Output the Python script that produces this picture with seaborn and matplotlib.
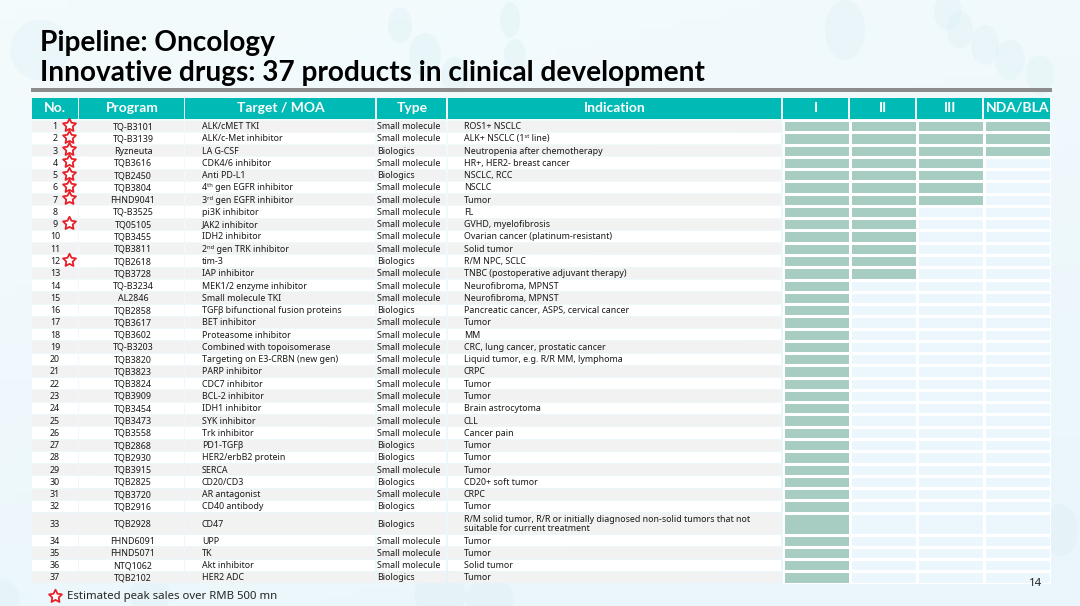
#!/usr/bin/env python3
"""
Pipeline table: oncology programs in clinical development.
"""
import numpy as np
import seaborn as sns
import matplotlib
matplotlib.use("Agg")
import matplotlib.pyplot as plt
from matplotlib.colors import ListedColormap
from matplotlib.patches import Rectangle, Ellipse
from matplotlib.path import Path

numbers = list(range(1, 38))
programs = ["TQ-B3101", "TQ-B3139", "Ryzneuta", "TQB3616", "TQB2450", "TQB3804", "FHND9041", "TQ-B3525",
            "TQ05105", "TQB3455", "TQB3811", "TQB2618", "TQB3728", "TQ-B3234", "AL2846", "TQB2858",
            "TQB3617", "TQB3602", "TQ-B3203", "TQB3820", "TQB3823", "TQB3824", "TQB3909", "TQB3454",
            "TQB3473", "TQB3558", "TQB2868", "TQB2930", "TQB3915", "TQB2825", "TQB3720", "TQB2916",
            "TQB2928", "FHND6091", "FHND5071", "NTQ1062", "TQB2102"]
targets = ["ALK/cMET TKI", "ALK/c-Met inhibitor", "LA G-CSF", "CDK4/6 inhibitor", "Anti PD-L1",
           "4ᵗʰ gen EGFR inhibitor", "3ʳᵈ gen EGFR inhibitor", "pi3K inhibitor", "JAK2 inhibitor",
           "IDH2 inhibitor", "2ⁿᵈ gen TRK inhibitor", "tim-3", "IAP inhibitor", "MEK1/2 enzyme inhibitor",
           "Small molecule TKI", "TGFβ bifunctional fusion proteins", "BET inhibitor", "Proteasome inhibitor",
           "Combined with topoisomerase", "Targeting on E3-CRBN (new gen)", "PARP inhibitor", "CDC7 inhibitor",
           "BCL-2 inhibitor", "IDH1 inhibitor", "SYK inhibitor", "Trk inhibitor", "PD1-TGFβ",
           "HER2/erbB2 protein", "SERCA", "CD20/CD3", "AR antagonist", "CD40 antibody", "CD47", "UPP", "TK",
           "Akt inhibitor", "HER2 ADC"]
SM, BIO = "Small molecule", "Biologics"
types = [SM, SM, BIO, SM, BIO, SM, SM, SM, SM, SM, SM, BIO, SM, SM, SM, BIO, SM, SM, SM, SM, SM, SM, SM, SM,
         SM, SM, BIO, BIO, SM, BIO, SM, BIO, BIO, SM, SM, SM, BIO]
indications = ["ROS1+ NSCLC", "ALK+ NSCLC (1ˢᵗ line)", "Neutropenia after chemotherapy",
               "HR+, HER2- breast cancer", "NSCLC, RCC", "NSCLC", "Tumor", "FL", "GVHD, myelofibrosis",
               "Ovarian cancer (platinum-resistant)", "Solid tumor", "R/M NPC, SCLC",
               "TNBC (postoperative adjuvant therapy)", "Neurofibroma, MPNST", "Neurofibroma, MPNST",
               "Pancreatic cancer, ASPS, cervical cancer", "Tumor", "MM", "CRC, lung cancer, prostatic cancer",
               "Liquid tumor, e.g. R/R MM, lymphoma", "CRPC", "Tumor", "Tumor", "Brain astrocytoma", "CLL",
               "Cancer pain", "Tumor", "Tumor", "Tumor", "CD20+ soft tumor", "CRPC", "Tumor",
               "R/M solid tumor, R/R or initially diagnosed non-solid tumors that not\nsuitable for current treatment",
               "Tumor", "Tumor", "Solid tumor", "Tumor"]
# highest phase reached per program (1=I, 2=II, 3=III, 4=NDA/BLA)
phase_reached = [4, 4, 4, 3, 3, 3, 3, 2, 2, 2, 2, 2, 2, 1, 1, 1, 1, 1, 1, 1, 1, 1, 1, 1, 1, 1, 1, 1, 1, 1, 1, 1,
                 1, 1, 1, 1, 1]
star_numbers = [1, 2, 3, 4, 5, 6, 7, 9, 12]
headers = ["No.", "Program", "Target / MOA", "Type", "Indication", "I", "II", "III", "NDA/BLA"]

W, H = 1080, 606
TEAL = "#00bab5"
FILLED = "#a7cdc3"
EMPTY = "#ebf7fc"
RED = "#e8202a"
BOLD_FAMILY = ["Lato", "DejaVu Sans"]

col_edges = [31.5, 79, 185, 376.5, 447.5, 782.5, 849.5, 916.5, 983.5, 1051]
top, row_h, tall_h = 120.0, 12.27, 22.0
row_heights = [tall_h if n == 33 else row_h for n in numbers]
row_tops = top + np.concatenate([[0], np.cumsum(row_heights)[:-1]])
row_mid = row_tops + np.array(row_heights) / 2

sns.set_style("white")
plt.rcParams["font.family"] = ["Noto Sans", "DejaVu Sans"]

fig = plt.figure(figsize=(W / 100, H / 100), dpi=100)
ax = fig.add_axes([0, 0, 1, 1])

# background gradient and the faint molecule decoration
grad = np.linspace(0, 1, 64).reshape(-1, 1) + np.linspace(0, 0.4, 64).reshape(1, -1)
ax.imshow(grad, extent=(0, W, H, 0), aspect="auto", zorder=0,
          cmap=ListedColormap(sns.blend_palette(["#f3fbfd", "#eaf6fb"], 64)))
for cx, cy, rx, ry in [(400, 25, 12, 18), (510, 20, 10, 18), (425, 55, 16, 22), (455, 75, 14, 18), (515, 55, 11, 16),
                       (845, 30, 20, 30), (948, 12, 14, 18), (960, 30, 13, 19), (985, 45, 14, 20), (1010, 60, 15, 20),
                       (1040, 75, 14, 20), (40, 50, 30, 30), (1015, 500, 15, 22), (1060, 530, 18, 26),
                       (440, 595, 26, 26), (490, 600, 24, 22), (0, 600, 20, 20), (150, 595, 20, 20)]:
    ax.add_patch(Ellipse((cx, cy), rx * 2, ry * 2, color="#dcf0f6", alpha=0.35, lw=0, zorder=1))

# title
title_font = dict(fontsize=20.2, fontweight="bold", family=BOLD_FAMILY, color="black", va="center", ha="left", zorder=5)
ax.text(40, 43, "Pipeline: Oncology", **title_font)
ax.text(40, 73, "Innovative drugs: 37 products in clinical development", **title_font)
ax.add_patch(Rectangle((31, 88), 1020.5, 4, color="#8c8c8c", lw=0, zorder=3))

# header row
for i, label in enumerate(headers):
    x0, x1 = col_edges[i], col_edges[i + 1]
    ax.add_patch(Rectangle((x0, 97.5), x1 - x0 - 1.2, 21.5, color=TEAL, lw=0, zorder=3))
    ax.text((x0 + x1) / 2, 107.5, label, color="white", fontsize=10, fontweight="bold", family=BOLD_FAMILY,
            ha="center", va="center", zorder=5)

# zebra stripes in the text columns
for i, (y0, h) in enumerate(zip(row_tops, row_heights)):
    colour = "#f2f2f2" if i % 2 == 0 else "white"
    for j in range(5):
        x0, x1 = col_edges[j], col_edges[j + 1]
        ax.add_patch(Rectangle((x0, y0 + 0.5), x1 - x0 - 1.2, h - 1, color=colour, lw=0, zorder=3))

# table text
cell = dict(fontsize=6.4, color="#1a1a1a", va="center", zorder=5)
for i, ym in enumerate(row_mid):
    ax.text(55, ym + 0.4, str(numbers[i]), ha="center", **cell)
    ax.text(133, ym + 0.4, programs[i], ha="center", **cell)
    ax.text(202, ym + 0.4, targets[i], ha="left", **cell)
    ax.text(377, ym + 0.4, types[i], ha="left", **cell)
    ax.text(464, ym + 0.4, indications[i], ha="left", linespacing=1.05, **cell)

# stars
star_marker = Path.unit_regular_star(5, innerCircle=0.5)
star_y = [row_mid[n - 1] - 1.5 for n in star_numbers]
sns.scatterplot(x=[69] * len(star_y), y=star_y, ax=ax, marker=star_marker, s=95, color="white", edgecolor=RED,
                linewidth=1.3, zorder=6, legend=False)
sns.scatterplot(x=[55], y=[596], ax=ax, marker=star_marker, s=95, color="white", edgecolor=RED,
                linewidth=1.3, zorder=6, legend=False)
ax.text(67, 596, "Estimated peak sales over RMB 500 mn", fontsize=8.2, color="#262626", va="center", zorder=5)
ax.set_xlim(0, W)
ax.set_ylim(H, 0)
ax.axis("off")

# phase cells: heatmaps, split so that row 33 can be taller
phase_matrix = np.array([[1 if p >= k else 0 for k in range(1, 5)] for p in phase_reached])
blocks = [(0, 32), (32, 33), (33, 37)]
for first, last in blocks:
    y0 = row_tops[first]
    y1 = row_tops[last - 1] + row_heights[last - 1]
    hax = fig.add_axes([col_edges[5] / W, 1 - y1 / H, (col_edges[9] - col_edges[5]) / W, (y1 - y0) / H])
    sns.heatmap(phase_matrix[first:last], ax=hax, cmap=ListedColormap([EMPTY, FILLED]), vmin=0, vmax=1,
                cbar=False, linewidths=0.9, linecolor="white", xticklabels=False, yticklabels=False)

# page number sits over the last heatmap
fig.text(1036 / W, 1 - 583 / H, "14", fontsize=8.2, color="#262626", ha="center", va="center", zorder=10)

fig.savefig("out.png", dpi=100)
